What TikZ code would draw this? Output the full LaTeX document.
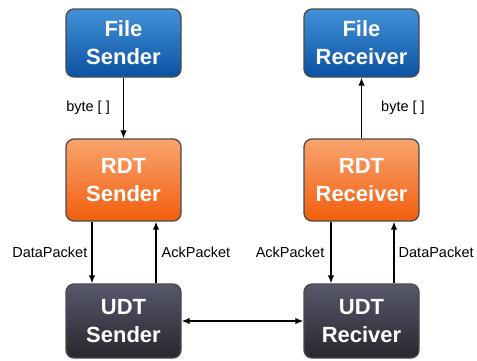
\documentclass[tikz,border=0pt]{standalone}
\usepackage{fontspec}
\setmainfont{Liberation Sans}
\usetikzlibrary{arrows.meta}

\definecolor{filetop}{HTML}{4391D8}
\definecolor{filebot}{HTML}{0A52A2}
\definecolor{rdttop}{HTML}{F9A46E}
\definecolor{rdtbot}{HTML}{F25E0D}
\definecolor{udttop}{HTML}{57586C}
\definecolor{udtbot}{HTML}{27272D}
\definecolor{edge}{HTML}{4A4A4A}

\begin{document}
\begin{tikzpicture}[x=1pt,y=-1pt,
  arr/.style={-{Latex[length=8pt,width=6.5pt]},line width=1.4pt},
  box/.style={draw=edge,line width=1.3pt,rounded corners=8pt,minimum width=115pt,
    align=center,text=white,font=\fontsize{22}{28}\selectfont\bfseries},
  lbl/.style={font=\fontsize{14.5}{17}\selectfont,inner sep=0pt}]
\useasboundingbox (0,0) rectangle (477,360);
\node[box,minimum height=68pt,top color=filetop,bottom color=filebot] (fsend) at (123.5,43) {File\\Sender};
\node[box,minimum height=68pt,top color=filetop,bottom color=filebot] (frecv) at (361.5,43) {File\\Receiver};
\node[box,minimum height=82pt,top color=rdttop,bottom color=rdtbot] (rsend) at (123.5,180) {RDT\\Sender};
\node[box,minimum height=82pt,top color=rdttop,bottom color=rdtbot] (rrecv) at (361.5,180) {RDT\\Receiver};
\node[box,minimum height=74pt,top color=udttop,bottom color=udtbot] (usend) at (123.5,321) {UDT\\Sender};
\node[box,minimum height=74pt,top color=udttop,bottom color=udtbot] (urecv) at (361.5,321) {UDT\\Reciver};
% file layer
\draw[arr] (fsend) -- node[lbl,left=13pt]{byte [ ]} (rsend);
\draw[arr] (rrecv) -- node[lbl,right=19pt]{byte [ ]} (frecv);
% rdt <-> udt
\draw[arr] ([xshift=-31.5pt]rsend.south) -- node[lbl,left=4pt]{DataPacket} ([xshift=-31.5pt]usend.north);
\draw[arr] ([xshift=32.5pt]usend.north) -- node[lbl,right=5pt]{AckPacket} ([xshift=32.5pt]rsend.south);
\draw[arr] ([xshift=-30.5pt]rrecv.south) -- node[lbl,left=6pt]{AckPacket} ([xshift=-30.5pt]urecv.north);
\draw[arr] ([xshift=32.5pt]urecv.north) -- node[lbl,right=4pt]{DataPacket} ([xshift=32.5pt]rrecv.south);
% network
\draw[arr,{Latex[length=8pt,width=6.5pt]}-{Latex[length=8pt,width=6.5pt]}] (usend) -- (urecv);
\end{tikzpicture}
\end{document}
